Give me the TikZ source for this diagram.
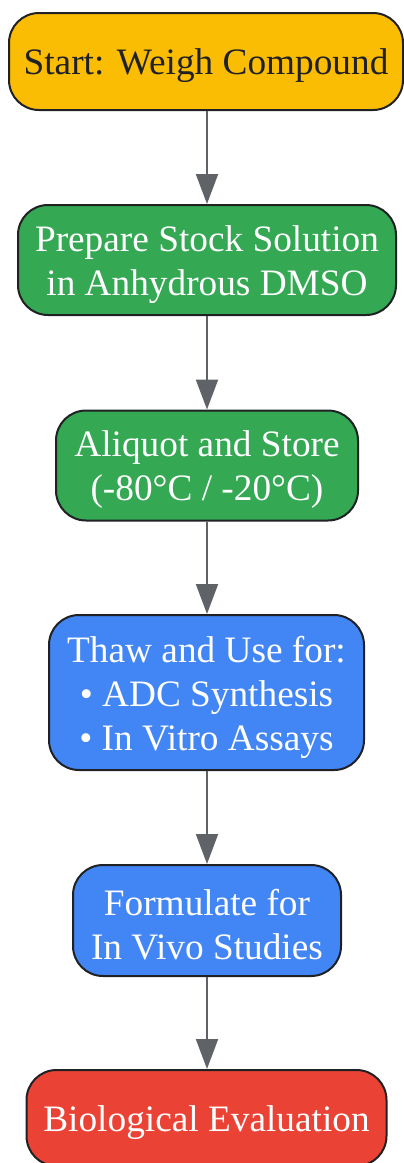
\documentclass[tikz,border=0pt]{standalone}
\usepackage{fontspec}
\setmainfont{Liberation Serif}
\usetikzlibrary{arrows.meta}
\definecolor{cyellow}{HTML}{FBBC04}
\definecolor{cgreen}{HTML}{34A853}
\definecolor{cblue}{HTML}{4285F4}
\definecolor{cred}{HTML}{EA4335}
\definecolor{cdark}{HTML}{202124}
\definecolor{cgray}{HTML}{5F6368}
\tikzset{
  box/.style={draw=cdark, line width=2pt, rounded corners=30pt, inner sep=0pt},
  txt/.style={inner sep=0pt, align=center, text=white, font=\fontsize{37.3}{44}\selectfont, yshift=-4.5pt},
  conn/.style={draw=cgray, line width=2pt, -{Triangle[length=30pt,width=22pt]}, color=cgray}
}
\begin{document}
\begin{tikzpicture}[x=1pt,y=-1pt]
\useasboundingbox (0,0) rectangle (404,1163);
\node[box, fill=cyellow, minimum width=394pt, minimum height=97pt] (n1) at (206,61.5) {};
\node[txt, text=cdark] (t1) at (n1.center) {Start: Weigh Compound};
\node[box, fill=cgreen, minimum width=378pt, minimum height=110pt] (n2) at (207,260) {};
\node[txt] (t2) at (n2.center) {Prepare Stock Solution\\in Anhydrous DMSO};
\node[box, fill=cgreen, minimum width=302pt, minimum height=110pt] (n3) at (207,465.5) {};
\node[txt] (t3) at (n3.center) {Aliquot and Store\\(-80°C / -20°C)};
\node[box, fill=cblue, minimum width=315pt, minimum height=155pt] (n4) at (206.5,692.5) {};
\node[txt] (t4) at (n4.center) {Thaw and Use for:\\• ADC Synthesis\\• In Vitro Assays};
\node[box, fill=cblue, minimum width=268pt, minimum height=111pt] (n5) at (207,920.5) {};
\node[txt] (t5) at (n5.center) {Formulate for\\In Vivo Studies};
\node[box, fill=cred, minimum width=360pt, minimum height=96pt] (n6) at (206.5,1118) {};
\node[txt] (t6) at (n6.center) {Biological Evaluation};
\draw[conn] (n1.south -| 207,0) -- (n2.north -| 207,0);
\draw[conn] (n2.south -| 207,0) -- (n3.north -| 207,0);
\draw[conn] (n3.south -| 207,0) -- (n4.north -| 207,0);
\draw[conn] (n4.south -| 207,0) -- (n5.north -| 207,0);
\draw[conn] (n5.south -| 207,0) -- (n6.north -| 207,0);
\end{tikzpicture}
\end{document}
